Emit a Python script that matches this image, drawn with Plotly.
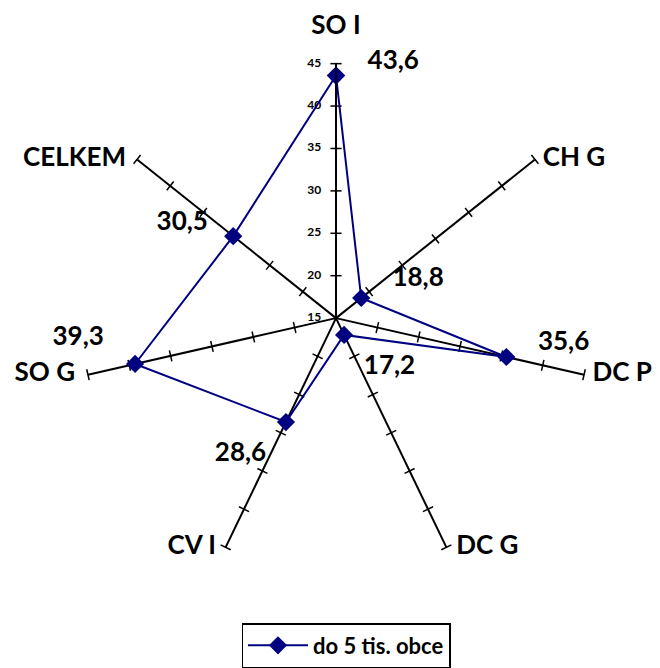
import plotly.graph_objects as go

# Data
categories = ["SO I", "CH G", "DC P", "DC G", "CV I", "SO G", "CELKEM"]
values = [43.6, 18.8, 35.6, 17.2, 28.6, 39.3, 30.5]
value_labels = ["43,6", "18,8", "35,6", "17,2", "28,6", "39,3", "30,5"]
radial_ticks = [15, 20, 25, 30, 35, 40, 45]
series_name = "do 5 tis. obce"

NAVY = "#000080"
FONT = "Lato"
NB = "\u00a0"

# page body has an 8px margin, so the figure is laid out 8px smaller
W, H = 652, 660
OFF = 8

# value label placement around each marker (position, extra spaces, spacer size)
label_pos = ["top right", "top right", "top right", "bottom right",
             "bottom left", "top left", "top left"]
label_pad = [5, 4, 5, 0, 0, 3, 4]
label_gap = [0, 8, 0, 30, 30, 18, 0]

# category label placement at the spoke ends
cat_pos = ["top center", "middle right", "middle right", "middle right",
           "middle left", "middle left", "middle left"]
cat_gap = [36, 11, 12, 14, 14, 19, 16]

texts = []
for lab, pos, pad in zip(value_labels, label_pos, label_pad):
    if pos.endswith("right"):
        texts.append(NB * pad + lab)
    else:
        texts.append(lab + NB * pad)

fig = go.Figure()

# small cross ticks on every spoke
n = len(categories)
tick_r, tick_theta, tick_angle = [], [], []
for i, cat in enumerate(categories):
    for t in radial_ticks[1:]:
        tick_r.append(t)
        tick_theta.append(cat)
        tick_angle.append(i * 360 / n)

fig.add_trace(go.Scatterpolar(
    r=tick_r, theta=tick_theta, mode="markers",
    marker=dict(symbol="line-ew", size=8, angle=tick_angle,
                line=dict(color="black", width=1.5)),
    showlegend=False, hoverinfo="skip",
))

# radial tick labels, left of the first spoke
fig.add_trace(go.Scatterpolar(
    r=radial_ticks, theta=[categories[0]] * len(radial_ticks),
    mode="markers+text", text=[str(t) for t in radial_ticks],
    textposition="middle left",
    marker=dict(size=22, opacity=0),
    textfont=dict(family=FONT, size=12, color="black", weight="bold"),
    showlegend=False, hoverinfo="skip",
))

# category names at the outer end of each spoke
fig.add_trace(go.Scatterpolar(
    r=[radial_ticks[-1]] * n, theta=categories,
    mode="markers+text", text=categories, textposition=cat_pos,
    marker=dict(size=cat_gap, opacity=0),
    textfont=dict(family=FONT, size=26, color="black", weight="bold"),
    showlegend=False, hoverinfo="skip",
))

fig.add_trace(go.Scatterpolar(
    r=values + values[:1],
    theta=categories + categories[:1],
    mode="lines+markers",
    name=series_name,
    line=dict(color=NAVY, width=2),
    marker=dict(symbol="diamond", size=14, color=NAVY),
))

fig.add_trace(go.Scatterpolar(
    r=values, theta=categories, mode="markers+text",
    text=texts, textposition=label_pos,
    marker=dict(size=label_gap, opacity=0),
    textfont=dict(family=FONT, size=26, color="black", weight="bold"),
    showlegend=False, hoverinfo="skip",
))

fig.update_layout(
    width=W, height=H,
    margin=dict(l=0, r=0, t=0, b=0),
    paper_bgcolor="white",
    font=dict(family=FONT, color="black"),
    polar=dict(
        domain=dict(x=[(80 - OFF) / W, (592 - OFF) / W],
                    y=[1 - (576 - OFF) / H, 1 - (64 - OFF) / H]),
        bgcolor="white",
        radialaxis=dict(
            range=[15, 45], tickvals=radial_ticks, angle=90,
            showticklabels=False,
            showgrid=False, showline=True, linecolor="black", linewidth=1.5,
            ticks="",
        ),
        angularaxis=dict(
            rotation=90, direction="clockwise",
            showgrid=True, gridcolor="black", gridwidth=1.5,
            showline=False, ticks="", showticklabels=False,
        ),
    ),
    legend=dict(
        x=(346 - OFF) / W, xanchor="center",
        y=1 - (627 - OFF) / H, yanchor="top",
        bordercolor="black", borderwidth=1.5, itemwidth=60,
        font=dict(family=FONT, size=22, weight="bold"),
    ),
)

fig.write_html("out.html")
